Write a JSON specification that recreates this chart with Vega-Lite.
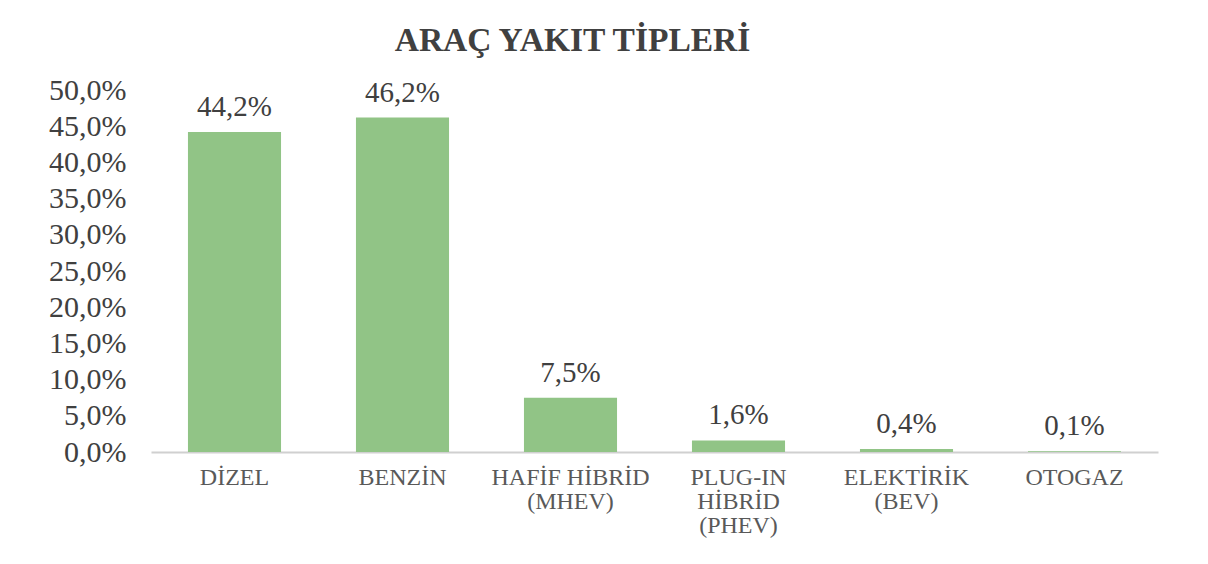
{
  "$schema": "https://vega.github.io/schema/vega-lite/v6.json",
  "width": 1007,
  "height": 362,
  "autosize": {"type": "none"},
  "padding": {"left": 151, "top": 90, "right": 50, "bottom": 112},
  "background": "white",
  "title": {
    "text": "ARAÇ YAKIT TİPLERİ",
    "font": "Liberation Serif",
    "fontSize": 33.5,
    "fontWeight": "bold",
    "color": "#404040",
    "anchor": "middle",
    "dx": -82,
    "offset": 17
  },
  "data": {
    "values": [
      {"tip": "DİZEL", "oran": 0.442},
      {"tip": "BENZİN", "oran": 0.462},
      {"tip": "HAFİF HİBRİD|(MHEV)", "oran": 0.075},
      {"tip": "PLUG-IN|HİBRİD|(PHEV)", "oran": 0.016},
      {"tip": "ELEKTİRİK|(BEV)", "oran": 0.004},
      {"tip": "OTOGAZ", "oran": 0.001}
    ]
  },
  "encoding": {
    "x": {
      "field": "tip",
      "type": "nominal",
      "sort": null,
      "scale": {"paddingInner": 0.446, "paddingOuter": 0.22},
      "axis": {
        "title": null,
        "labelAngle": 0,
        "labelExpr": "split(datum.value, '|')",
        "ticks": false,
        "domainColor": "#d0d0d0",
        "domainWidth": 2,
        "labelFont": "Liberation Serif",
        "labelFontSize": 24,
        "labelColor": "#595959",
        "labelLineHeight": 24,
        "labelPadding": 13
      }
    },
    "y": {
      "field": "oran",
      "type": "quantitative",
      "scale": {"domain": [0, 0.5]},
      "axis": {
        "title": null,
        "values": [0, 0.05, 0.1, 0.15, 0.2, 0.25, 0.3, 0.35, 0.4, 0.45, 0.5],
        "format": ".1%",
        "grid": false,
        "ticks": false,
        "domain": false,
        "labelFont": "Liberation Serif",
        "labelFontSize": 30,
        "labelColor": "#404040",
        "labelPadding": 25
      }
    }
  },
  "layer": [
    {"mark": {"type": "bar", "color": "#91c486"}},
    {
      "mark": {
        "type": "text",
        "baseline": "bottom",
        "dy": -10,
        "font": "Liberation Serif",
        "fontSize": 29,
        "color": "#404040"
      },
      "encoding": {"text": {"field": "oran", "type": "quantitative", "format": ".1%"}}
    }
  ],
  "config": {
    "view": {"stroke": null},
    "locale": {
      "number": {"decimal": ",", "thousands": ".", "grouping": [3], "currency": ["", " TL"]}
    }
  }
}
